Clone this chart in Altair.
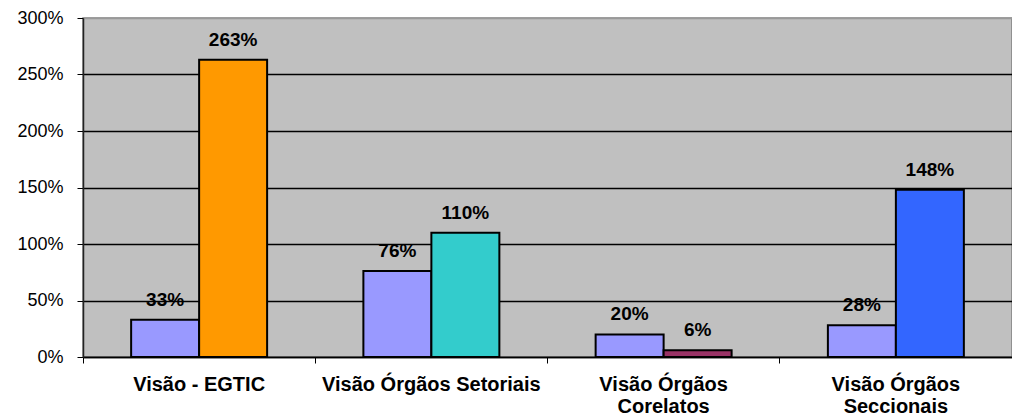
import altair as alt
import pandas as pd

categories = ["Visão - EGTIC", "Visão Órgãos Setoriais", "Visão Órgãos|Corelatos", "Visão Órgãos|Seccionais"]
first_values = [0.33, 0.76, 0.20, 0.28]
second_values = [2.63, 1.10, 0.06, 1.48]
first_color = "#9999FF"
second_colors = ["#FF9900", "#33CCCC", "#993366", "#3366FF"]

rows = []
keys, colors = [], []
for i, c in enumerate(categories):
    rows.append({"cat": c, "serie": "A", "value": first_values[i], "key": f"{i}A"})
    rows.append({"cat": c, "serie": "B", "value": second_values[i], "key": f"{i}B"})
    keys += [f"{i}A", f"{i}B"]
    colors += [first_color, second_colors[i]]
df = pd.DataFrame(rows)

FONT = "Liberation Sans"

x = alt.X("cat:N", sort=categories, title=None,
          scale=alt.Scale(paddingInner=0, paddingOuter=0),
          axis=alt.Axis(labelExpr="split(datum.label, '|')", labelAngle=0,
                        labelFont=FONT, labelFontSize=20, labelFontWeight="bold",
                        labelColor="black", labelPadding=11, labelLineHeight=22,
                        labelLimit=400,
                        bandPosition=0, tickSize=6, tickColor="black",
                        domainColor="black", domainWidth=1.5, grid=False,
                        labelBaseline="top"))
xoff = alt.XOffset("serie:N", scale=alt.Scale(paddingOuter=0.708, paddingInner=0))
y = alt.Y("value:Q", title=None,
          scale=alt.Scale(domain=[0, 3], nice=False),
          axis=alt.Axis(format=".0%", values=[0, 0.5, 1, 1.5, 2, 2.5, 3],
                        labelFont=FONT, labelFontSize=18, labelColor="black",
                        labelPadding=14, tickSize=6, tickColor="black",
                        domainColor="#222222", domainWidth=1.5,
                        gridColor=alt.expr("datum.value >= 3 ? '#999999' : 'black'"),
                        gridWidth=1.3, gridOpacity=1))

bars = alt.Chart(df).mark_bar(stroke="black", strokeWidth=2).encode(
    x=x, xOffset=xoff, y=y,
    color=alt.Color("key:N", scale=alt.Scale(domain=keys, range=colors), legend=None),
)
labels = alt.Chart(df).mark_text(font=FONT, fontSize=19, fontWeight="bold",
                                 color="black", dy=-14, baseline="alphabetic").encode(
    x=x, xOffset=xoff, y=y, text=alt.Text("value:Q", format=".0%"))

chart = (bars + labels).properties(
    width=929, height=339,
    autosize=alt.AutoSizeParams(type="none"),
    padding={"left": 75, "top": 10, "right": 0, "bottom": 62},
).configure_view(fill="#C0C0C0", stroke="#808080", strokeWidth=1.5)

chart.save("out.html", embed_options={"renderer": "svg", "actions": False})
